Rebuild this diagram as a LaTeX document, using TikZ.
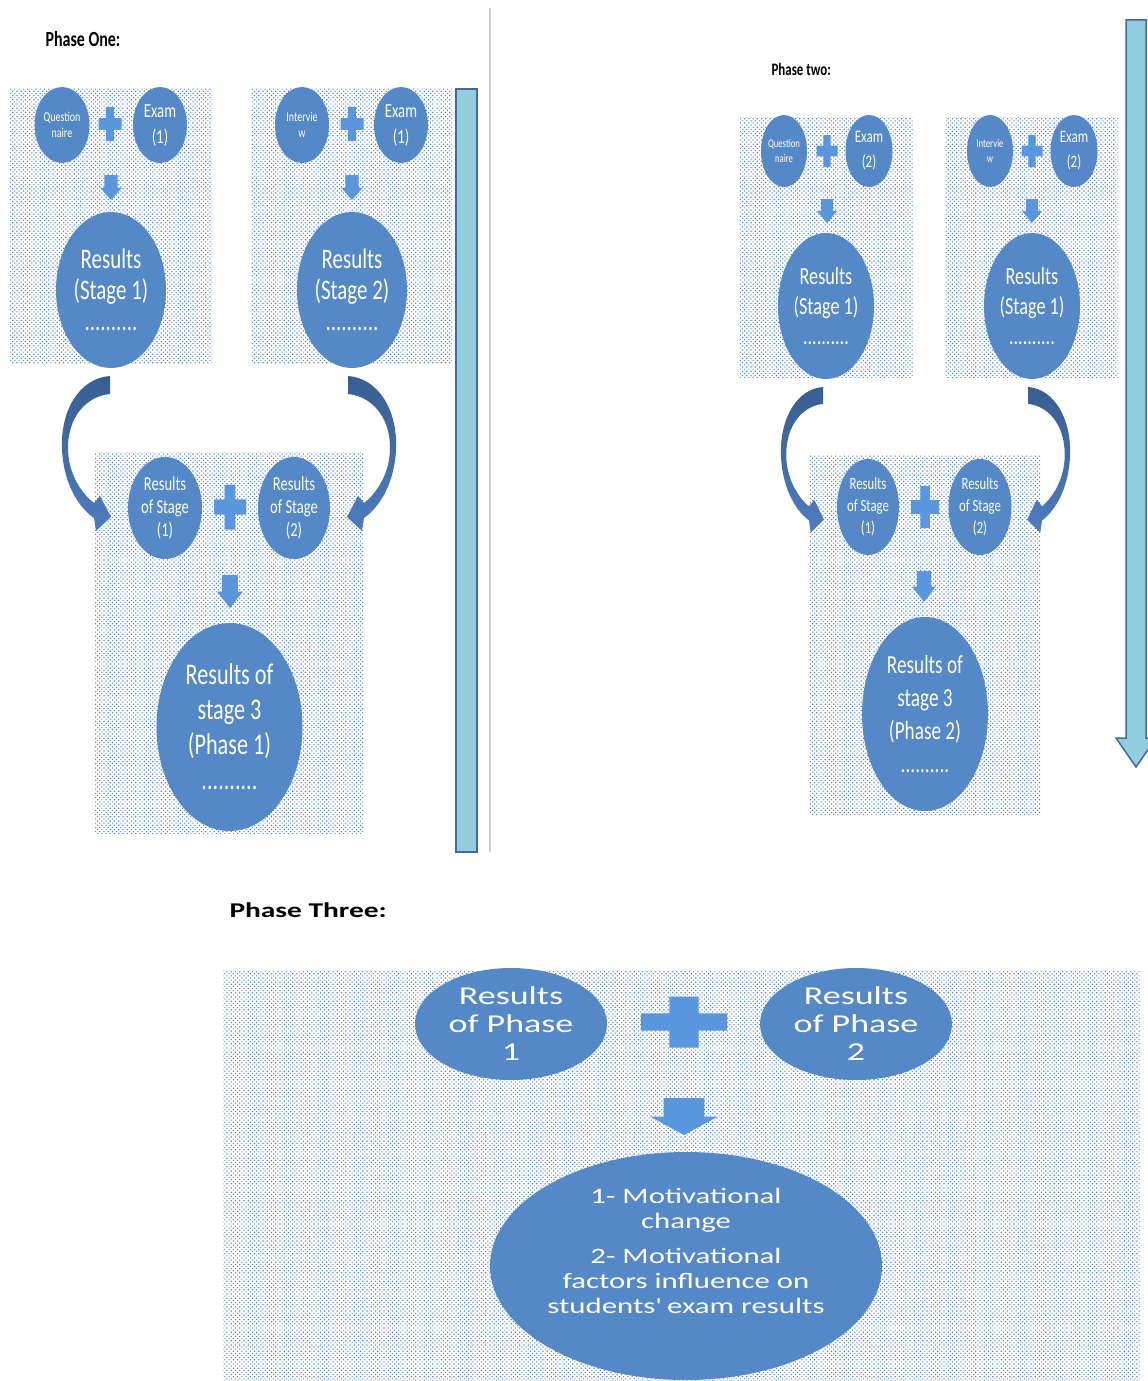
\documentclass[tikz,border=0pt]{standalone}
\usepackage{fontspec}
\usepackage{xcolor}
\usetikzlibrary{shapes.geometric,patterns.meta}
\newfontfamily\upfont[FakeStretch=0.74]{Carlito}
\newfontfamily\lowfont[FakeStretch=1.4]{Carlito}
\definecolor{ellblue}{RGB}{84,136,199}
\definecolor{plusblue}{RGB}{89,150,222}
\definecolor{dotblue}{RGB}{82,132,214}
\definecolor{bendtop}{RGB}{56,94,146}
\definecolor{bendbot}{RGB}{78,124,190}
\definecolor{barfill}{RGB}{146,205,221}
\definecolor{barline}{RGB}{66,104,160}
\definecolor{divider}{RGB}{205,205,205}
\tikzset{
	blob/.style={ellipse,fill=ellblue,text=white,inner sep=0pt,align=center},
	upfnt/.style 2 args={font=\upfont\fontsize{#1}{#2}\selectfont},
	lowfnt/.style 2 args={font=\lowfont\fontsize{#1}{#2}\selectfont},
	dotbox/.style={pattern={Dots[distance=3pt,angle=45,radius=0.8pt]},pattern color=dotblue},
	plussign/.pic={
			\fill[plusblue] (-1,-0.34) rectangle (1,0.34) (-0.34,-1) rectangle (0.34,1);
		},
	downarrow/.pic={
			\fill[plusblue] (-0.6,0) -- (0.6,0) -- (0.6,0.5) -- (1,0.5) -- (0,1) -- (-1,0.5) -- (-0.6,0.5) -- cycle;
		},
	bendarrow/.pic={
			\shade[top color=bendtop,bottom color=bendbot] (0,0) .. controls (-30,2) and (-50,34) .. (-48,74)
			.. controls (-46,112) and (-28,134) .. (-16,142) -- (-14,155) -- (1,141) -- (-10,120) -- (-16,127)
			.. controls (-30,116) and (-42,96) .. (-42,72) .. controls (-42,39) and (-22,20) .. (0,18) -- cycle;
		}
}

\begin{document}
\begin{tikzpicture}[x=1pt,y=-1pt]
    \useasboundingbox (0,0) rectangle (1148,1381);
    \draw[divider,line width=2pt] (490,8) -- (490,852);
    % Phase one
    \node[font=\upfont\bfseries\fontsize{21.6}{24}\selectfont,anchor=base west] (lbl1) at (42,47) {Phase One:};
    \fill[dotbox] (10,88) rectangle (212,363);
    \fill[dotbox] (251,88) rectangle (452,363);
    \fill[dotbox] (95,452) rectangle (363,833);
    \filldraw[fill=barfill,draw=barline,line width=1.5pt] (456,89) rectangle (477,852);
    \node[blob,upfnt={13.5}{16},minimum width=55pt,minimum height=76pt] (qa1) at (62,125) {Question\\naire};
    \node[blob,upfnt={20}{26},minimum width=54pt,minimum height=76pt] (ex1) at (160,125) {Exam\\(1)};
    \node[blob,upfnt={28.3}{31},minimum width=110pt,minimum height=156pt] (rs1) at (111,290) {Results\\(Stage 1)\\..........};
    \node[blob,upfnt={13.5}{16},minimum width=54pt,minimum height=76pt] (iv1) at (302,125) {Intervie\\w};
    \node[blob,upfnt={20}{26},minimum width=54pt,minimum height=76pt] (ex2) at (401,125) {Exam\\(1)};
    \node[blob,upfnt={28.3}{31},minimum width=110pt,minimum height=156pt] (rs2) at (352,290) {Results\\(Stage 2)\\..........};
    \pic[xscale=11.5,yscale=17] at (110,124) {plussign};
    \pic[xscale=11.5,yscale=17] at (352,124) {plussign};
    \pic[xscale=11,yscale=25] at (111,175) {downarrow};
    \pic[xscale=11,yscale=25] at (352,175) {downarrow};
    \pic at (110,376) {bendarrow};
    \pic[xscale=-1] at (348,376) {bendarrow};
    \node[blob,upfnt={19.7}{23},minimum width=74pt,minimum height=102pt] (os1) at (165,508) {Results\\of Stage\\(1)};
    \node[blob,upfnt={19.7}{23},minimum width=72pt,minimum height=102pt] (os2) at (294,508) {Results\\of Stage\\(2)};
    \pic[xscale=16,yscale=22.5] at (230,507) {plussign};
    \pic[xscale=13,yscale=33] at (230,575) {downarrow};
    \node[blob,upfnt={30}{35},minimum width=146pt,minimum height=208pt] (ph1) at (229.5,727) {Results of\\stage 3\\(Phase 1)\\..........};
    % Phase two
    \node[font=\upfont\bfseries\fontsize{17.5}{20}\selectfont,anchor=base west] (lbl2) at (768,76) {Phase two:};
    \fill[dotbox] (740,117) rectangle (913,377);
    \fill[dotbox] (945,117) rectangle (1118,377);
    \fill[dotbox] (809,455) rectangle (1041,815);
    \filldraw[fill=barfill,draw=barline,line width=1.5pt] (1126,20) -- (1146,20) -- (1146,738) -- (1156,738)
        -- (1136,767) -- (1116,738) -- (1126,738) -- cycle;
    \node[blob,upfnt={11.7}{15},minimum width=46pt,minimum height=72pt] (qb1) at (784,151) {Question\\naire};
    \node[blob,upfnt={17.5}{25},minimum width=47pt,minimum height=72pt] (eb1) at (869,151) {Exam\\(2)};
    \node[blob,upfnt={24.6}{30},minimum width=96pt,minimum height=146pt] (rb1) at (826,306) {Results\\(Stage 1)\\..........};
    \node[blob,upfnt={11.7}{15},minimum width=46pt,minimum height=72pt] (iw2) at (990,151) {Intervie\\w};
    \node[blob,upfnt={17.5}{25},minimum width=47pt,minimum height=72pt] (eb2) at (1074,151) {Exam\\(2)};
    \node[blob,upfnt={24.6}{30},minimum width=96pt,minimum height=146pt] (rb2) at (1032,306) {Results\\(Stage 1)\\..........};
    \pic[xscale=10.5,yscale=16] at (827,151) {plussign};
    \pic[xscale=10.5,yscale=16] at (1032,151) {plussign};
    \pic[xscale=10,yscale=24] at (827,199) {downarrow};
    \pic[xscale=10,yscale=24] at (1032,199) {downarrow};
    \pic[xscale=0.875,yscale=0.94] at (823,387) {bendarrow};
    \pic[xscale=-0.875,yscale=0.94] at (1028,387) {bendarrow};
    \node[blob,upfnt={17.2}{22},minimum width=62pt,minimum height=96pt] (ob1) at (868,507) {Results\\of Stage\\(1)};
    \node[blob,upfnt={17.2}{22},minimum width=63pt,minimum height=96pt] (ob2) at (980,507) {Results\\of Stage\\(2)};
    \pic[xscale=14,yscale=21] at (925,507) {plussign};
    \pic[xscale=12,yscale=31] at (924,571) {downarrow};
    \node[blob,upfnt={26}{33},minimum width=126pt,minimum height=194pt] (ph2) at (925,714) {Results of\\stage 3\\(Phase 2)\\..........};
    % Phase three
    \node[font=\lowfont\bfseries\fontsize{21}{24}\selectfont,anchor=base west] (lbl3) at (226,917) {Phase Three:};
    \fill[dotbox] (223,970) rectangle (1140,1381);
    \node[blob,lowfnt={25.7}{28},minimum width=192pt,minimum height=112pt] (pa) at (511,1024) {Results\\of Phase\\1};
    \node[blob,lowfnt={25.7}{28},minimum width=192pt,minimum height=112pt] (pb) at (856,1024) {Results\\of Phase\\2};
    \pic[xscale=43,yscale=25.5] at (684,1022) {plussign};
    \pic[xscale=34,yscale=37] at (684,1098) {downarrow};
    \node[blob,lowfnt={22}{25},minimum width=392pt,minimum height=228pt,text depth=30pt] (fin) at (686,1266)
        {1- Motivational\\change\\[10pt]2- Motivational\\factors influence on\\students\textquotesingle\ exam results};
\end{tikzpicture}
\end{document}
